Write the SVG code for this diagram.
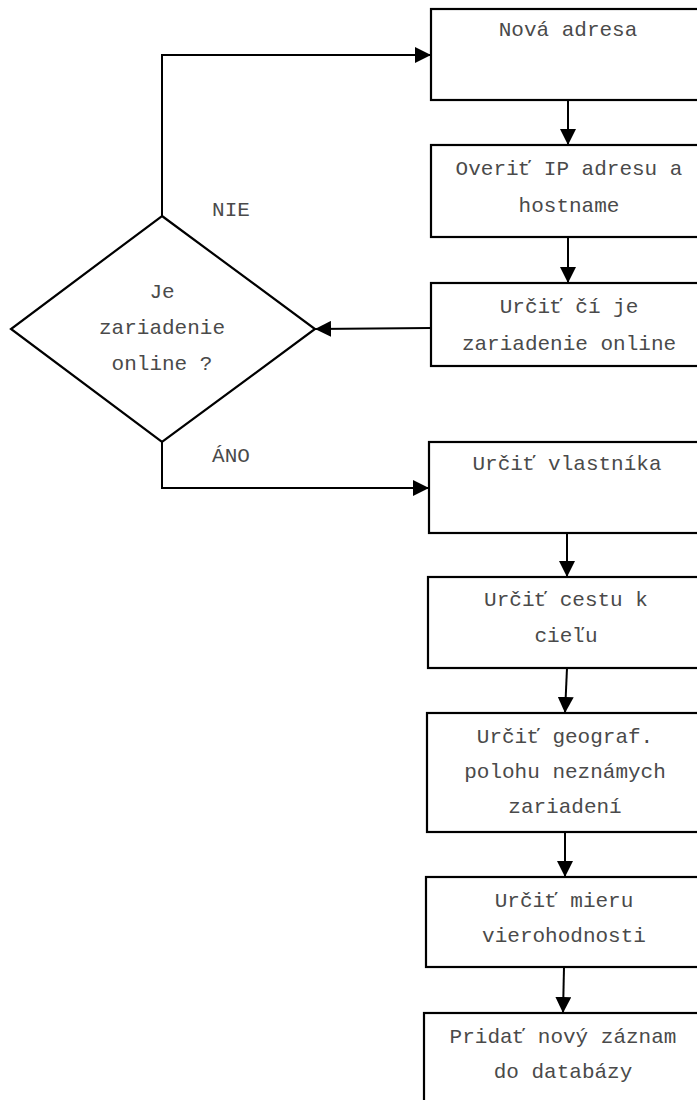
<svg xmlns="http://www.w3.org/2000/svg" width="697" height="1100" viewBox="0 0 697 1100">
<style>
.box{fill:#fff;stroke:#000;stroke-width:2.2}
.t{font-family:"Liberation Mono","Courier New",monospace;font-size:21px;fill:#4a4a4a;text-anchor:middle}
.c{fill:none;stroke:#000;stroke-width:2}
</style>
<defs>
<marker id="ah" markerWidth="16" markerHeight="16" refX="16" refY="8" orient="auto" markerUnits="userSpaceOnUse">
<path d="M0,0 L16,8 L0,16 Z" fill="#000"/>
</marker>
</defs>
<g id="connectors">
<path class="c" d="M568,100 L568,145" marker-end="url(#ah)"/>
<path class="c" d="M568,237 L568,283" marker-end="url(#ah)"/>
<path class="c" d="M431,328 L315,329" marker-end="url(#ah)"/>
<path class="c" d="M162,216 L162,55 L431,55" marker-end="url(#ah)"/>
<path class="c" d="M162,442 L162,488 L429,488" marker-end="url(#ah)"/>
<path class="c" d="M567,533 L567,577" marker-end="url(#ah)"/>
<path class="c" d="M567,668 L565,713" marker-end="url(#ah)"/>
<path class="c" d="M565,832 L565,877" marker-end="url(#ah)"/>
<path class="c" d="M564,967 L563,1013" marker-end="url(#ah)"/>
<text class="t" x="231" y="216">NIE</text>
<text class="t" x="231" y="462">ÁNO</text>
</g>
<g id="n1"><rect class="box" x="431" y="9" width="300" height="91"/><text class="t" x="568" y="36">Nová adresa</text></g>
<g id="n2"><rect class="box" x="431" y="145" width="300" height="92"/><text class="t" x="569" y="175">Overiť IP adresu a</text><text class="t" x="569" y="212">hostname</text></g>
<g id="n3"><rect class="box" x="431" y="283" width="300" height="83"/><text class="t" x="569" y="313">Určiť čí je</text><text class="t" x="569" y="350">zariadenie online</text></g>
<g id="d1"><path class="box" d="M162,216 L315,329 L162,442 L11,329 Z"/><text class="t" x="162" y="298">Je</text><text class="t" x="162" y="334">zariadenie</text><text class="t" x="162" y="370">online ?</text></g>
<g id="n4"><rect class="box" x="429" y="442" width="300" height="91"/><text class="t" x="567" y="470">Určiť vlastníka</text></g>
<g id="n5"><rect class="box" x="428" y="577" width="300" height="91"/><text class="t" x="566" y="606">Určiť cestu k</text><text class="t" x="566" y="642">cieľu</text></g>
<g id="n6"><rect class="box" x="427" y="713" width="300" height="119"/><text class="t" x="565" y="743">Určiť geograf.</text><text class="t" x="565" y="778">polohu neznámych</text><text class="t" x="565" y="813">zariadení</text></g>
<g id="n7"><rect class="box" x="426" y="877" width="300" height="90"/><text class="t" x="564" y="907">Určiť mieru</text><text class="t" x="564" y="942">vierohodnosti</text></g>
<g id="n8"><rect class="box" x="424" y="1013" width="300" height="120"/><text class="t" x="563" y="1043">Pridať nový záznam</text><text class="t" x="563" y="1078">do databázy</text></g>
</svg>
